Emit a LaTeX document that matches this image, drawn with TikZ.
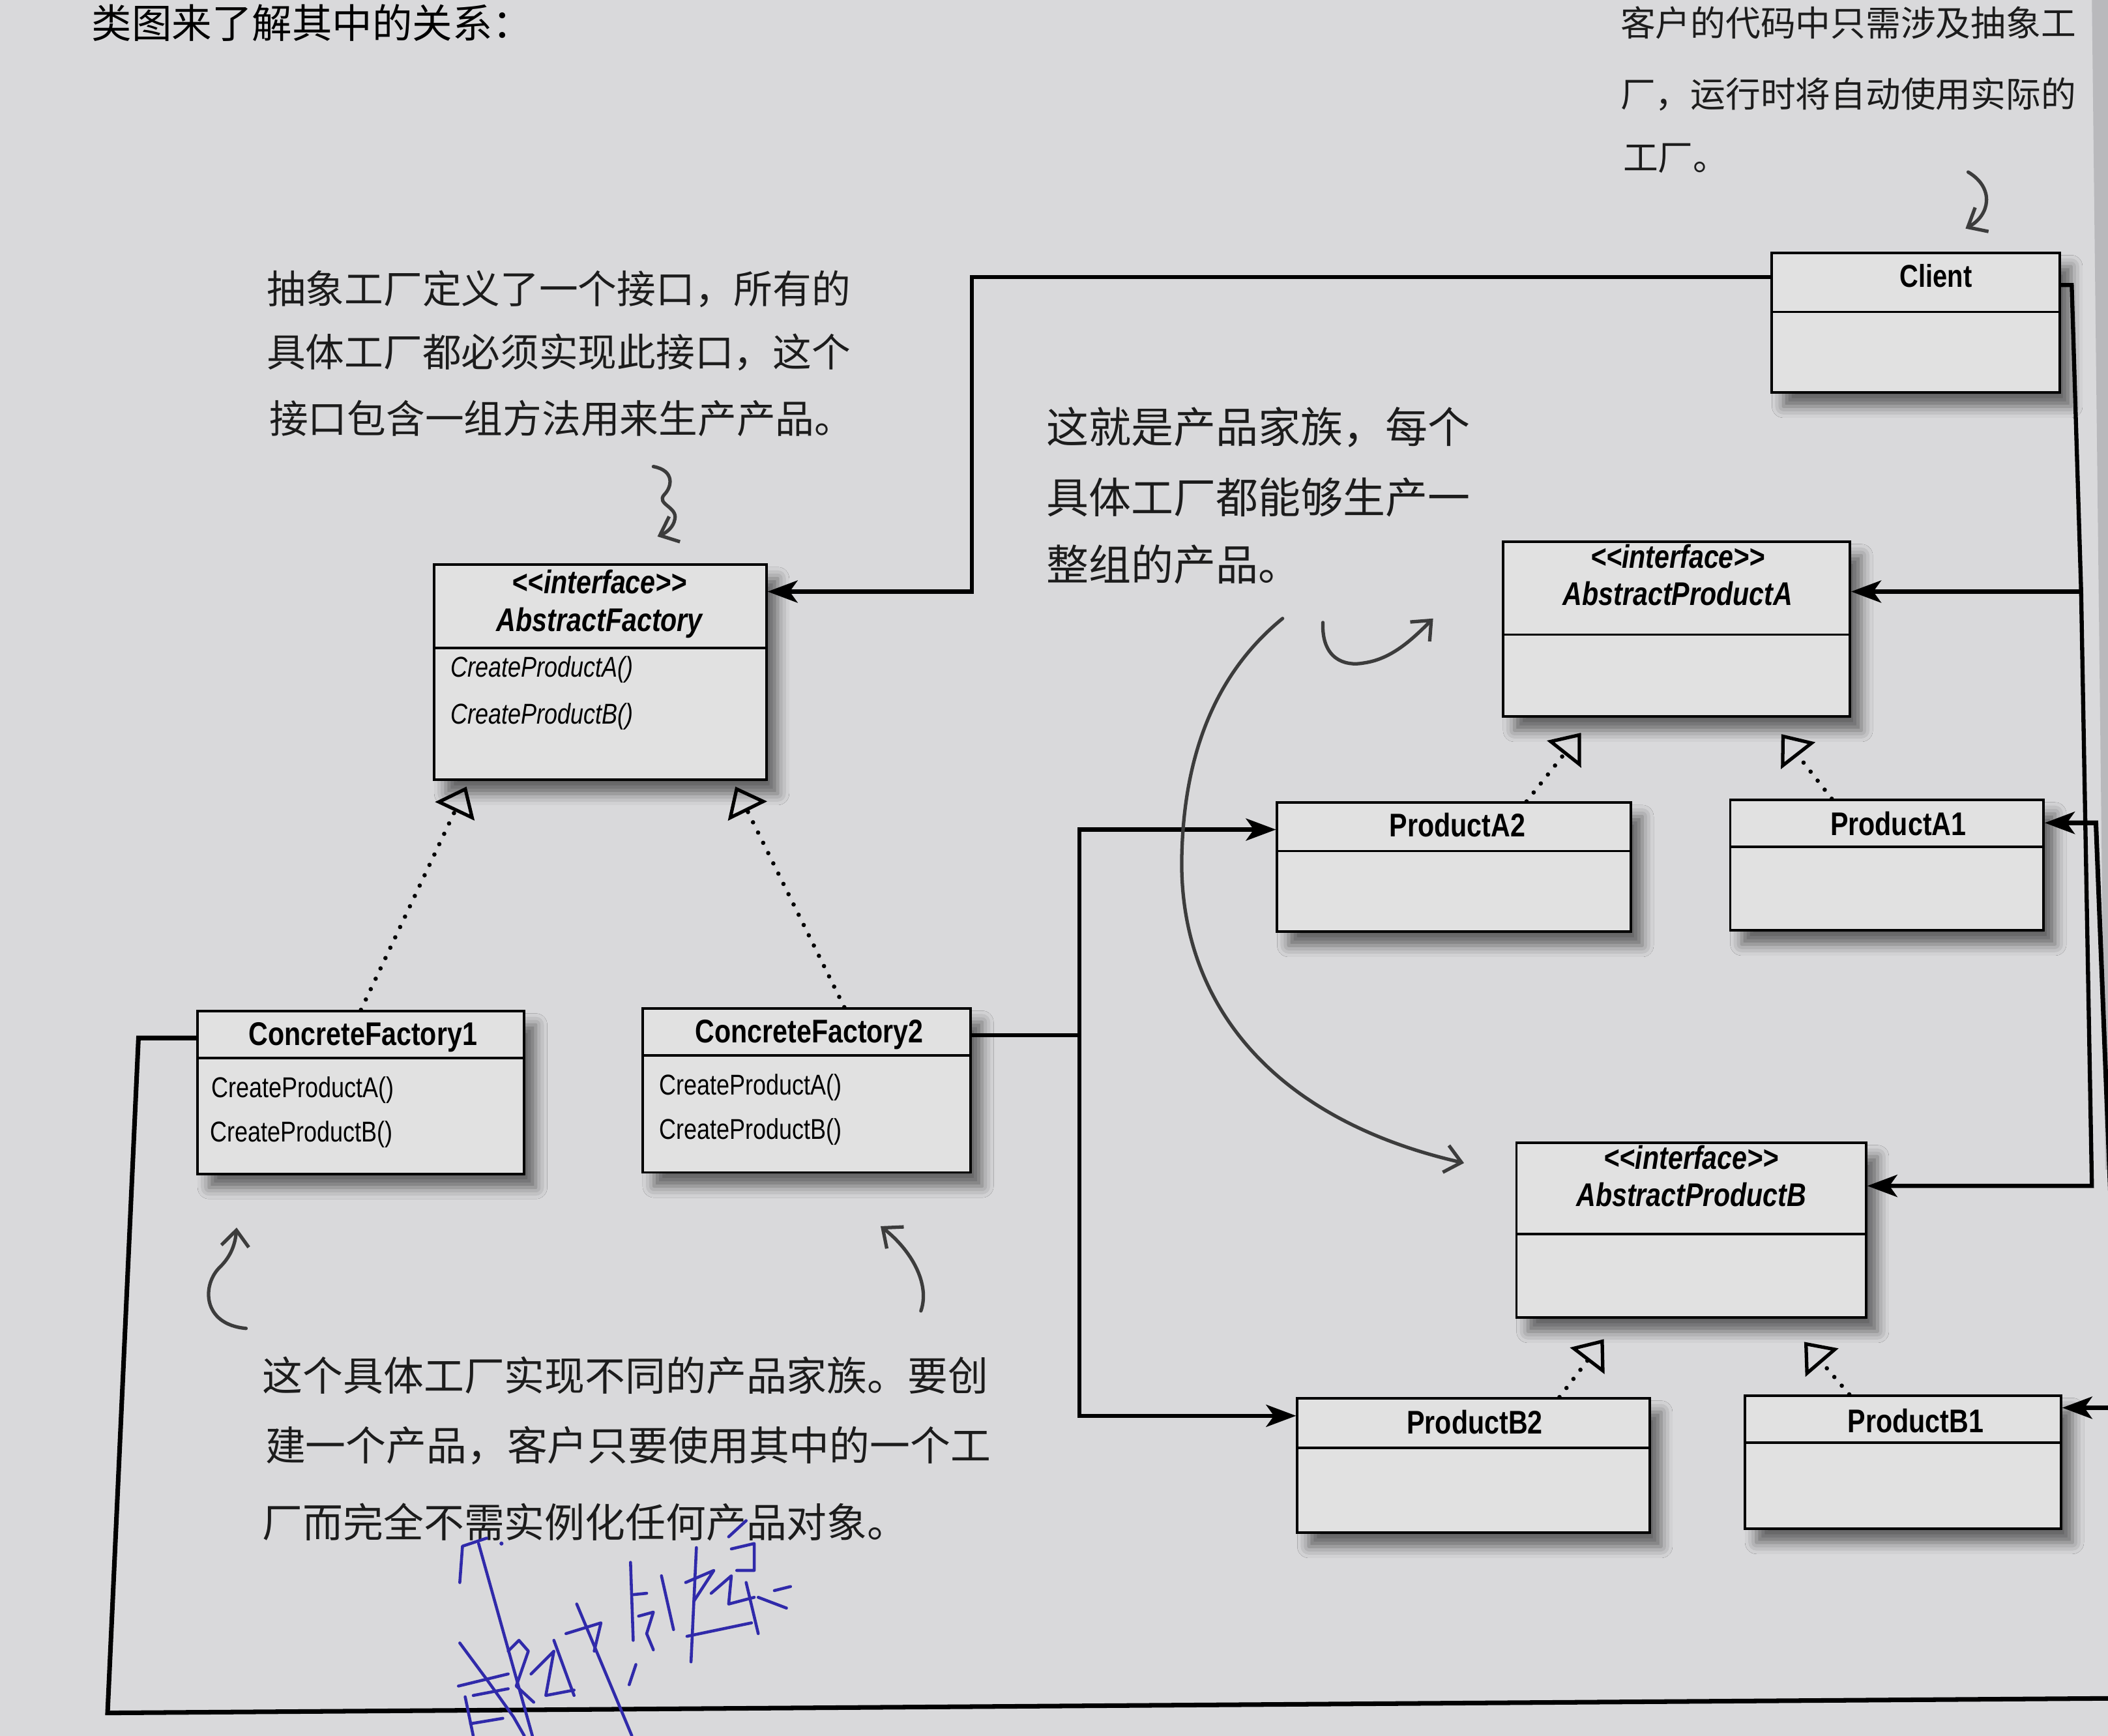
\documentclass[tikz,border=0pt]{standalone}
\usepackage{fontspec}
\newfontfamily\umlfont[FakeStretch=0.82]{Liberation Sans}
\newfontfamily\cjk{Noto Sans CJK SC}
\usetikzlibrary{fit,arrows.meta,shadows.blur,calc}
\definecolor{paper}{RGB}{217,217,219}
\definecolor{boxfill}{RGB}{225,225,225}
\definecolor{edgegray}{RGB}{185,185,188}
\definecolor{ink}{RGB}{28,28,28}
\definecolor{pencil}{RGB}{60,60,60}
\definecolor{pen}{RGB}{48,42,170}
\begin{document}
\begin{tikzpicture}[x=0.020625cm,y=-0.020625cm,
  umlbox/.style={draw=black,line width=1.1pt,fill=boxfill,inner sep=0pt,
    blur shadow={shadow xshift=5pt,shadow yshift=-6pt,shadow blur radius=5pt,shadow opacity=55}},
  cname/.style={font=\umlfont\bfseries\fontsize{14.3}{16}\selectfont,inner sep=0pt,text height=1.5ex,text depth=.3ex},
  iname/.style={font=\umlfont\bfseries\itshape\fontsize{14.3}{16}\selectfont,inner sep=0pt,text height=1.5ex,text depth=.3ex},
  meth/.style={font=\umlfont\fontsize{12.5}{14}\selectfont,anchor=west,inner sep=0pt,text height=1.5ex,text depth=.3ex},
  imeth/.style={font=\umlfont\itshape\fontsize{12.5}{14}\selectfont,anchor=west,inner sep=0pt,text height=1.5ex,text depth=.3ex},
  sepline/.style={line width=1.1pt},
  assoc/.style={line width=1.8pt,line join=miter,-{Stealth[length=0.46cm,width=0.34cm,inset=0.12cm]}},
  wire/.style={line width=1.8pt},
  realize/.style={line width=1.9pt,dash pattern=on 0pt off 5pt,line cap=round,
    -{Triangle[open,length=0.42cm,width=0.66cm,line width=1.5pt]}},
  note/.style={font=\cjk\fontsize{17}{20}\selectfont,text=ink,anchor=west,inner sep=0pt},
  handarrow/.style={draw=pencil,line width=1.5pt,line cap=round,-{Straight Barb[length=7pt,width=12pt,line width=1.5pt]}},
  penstroke/.style={draw=pen,line width=1.3pt,line cap=round,line join=round}
]
\useasboundingbox (0,0) rectangle (1568,1291);
\fill[paper] (0,0) rectangle (1568,1291);
\begin{scope}
\clip (0,0) rectangle (1568,1291);
\fill[edgegray] (1556,0) -- (1568,0) -- (1568,870) -- (1566,870) -- cycle;

% ---------- texts ----------
\node[note,font=\cjk\fontsize{17.5}{20}\selectfont,text=black] (top) at (68,17) {类图来了解其中的关系：};

\node[note] (n1a) at (198,215) {抽象工厂定义了一个接口，所有的};
\node[note] (n1b) at (198,262) {具体工厂都必须实现此接口，这个};
\node[note] (n1c) at (200,311) {接口包含一组方法用来生产产品。};

\node[note,font=\cjk\fontsize{18.5}{20}\selectfont] (n2a) at (778,318) {这就是产品家族，每个};
\node[note,font=\cjk\fontsize{18.5}{20}\selectfont] (n2b) at (778,370) {具体工厂都能够生产一};
\node[note,font=\cjk\fontsize{18.5}{20}\selectfont] (n2c) at (778,420) {整组的产品。};

\node[note,font=\cjk\fontsize{15.3}{18}\selectfont] (n3a) at (1205,17) {客户的代码中只需涉及抽象工};
\node[note,font=\cjk\fontsize{15.3}{18}\selectfont] (n3b) at (1205,70) {厂，运行时将自动使用实际的};
\node[note,font=\cjk\fontsize{15.3}{18}\selectfont] (n3c) at (1207,118) {工厂。};

\node[note,font=\cjk\fontsize{17.6}{20}\selectfont] (n4a) at (195,1023) {这个具体工厂实现不同的产品家族。要创};
\node[note,font=\cjk\fontsize{17.6}{20}\selectfont] (n4b) at (197,1075) {建一个产品，客户只要使用其中的一个工};
\node[note,font=\cjk\fontsize{17.6}{20}\selectfont] (n4c) at (195,1132) {厂而完全不需实例化任何产品对象。};

% ---------- boxes ----------
\node[umlbox,fit={(323,420) (570,580)}] (af) {};
\draw[sepline] (323,482) -- (570,482);
\node[iname] (af-st) at (446,437) {<\kern0pt<interface>\kern0pt>};
\node[iname] (af-nm) at (446,465) {AbstractFactory};
\node[imeth] (af-m1) at (335,499) {CreateProductA()};
\node[imeth] (af-m2) at (335,534) {CreateProductB()};

\node[umlbox,fit={(147,752) (390,873)}] (cf1) {};
\draw[sepline] (147,787) -- (390,787);
\node[cname] (cf1-nm) at (270,773) {ConcreteFactory1};
\node[meth] (cf1-m1) at (157,812) {CreateProductA()};
\node[meth] (cf1-m2) at (156,845) {CreateProductB()};

\node[umlbox,fit={(478,750) (722,872)}] (cf2) {};
\draw[sepline] (478,785) -- (722,785);
\node[cname] (cf2-nm) at (602,771) {ConcreteFactory2};
\node[meth] (cf2-m1) at (490,810) {CreateProductA()};
\node[meth] (cf2-m2) at (490,843) {CreateProductB()};

\node[umlbox,fit={(1318,188) (1532,292)}] (client) {};
\draw[sepline] (1318,232) -- (1532,232);
\node[cname,font=\umlfont\bfseries\fontsize{13.8}{16}\selectfont] (client-nm) at (1440,209) {Client};

\node[umlbox,fit={(1118,403) (1376,533)}] (apa) {};
\draw[sepline] (1118,472) -- (1376,472);
\node[iname] (apa-st) at (1248,418) {<\kern0pt<interface>\kern0pt>};
\node[iname] (apa-nm) at (1248,446) {AbstractProductA};

\node[umlbox,fit={(950,597) (1213,693)}] (pa2) {};
\draw[sepline] (950,633) -- (1213,633);
\node[cname] (pa2-nm) at (1084,618) {ProductA2};

\node[umlbox,fit={(1287,595) (1520,692)}] (pa1) {};
\draw[sepline] (1287,630) -- (1520,630);
\node[cname] (pa1-nm) at (1412,617) {ProductA1};

\node[umlbox,fit={(1128,850) (1388,980)}] (apb) {};
\draw[sepline] (1128,918) -- (1388,918);
\node[iname] (apb-st) at (1258,865) {<\kern0pt<interface>\kern0pt>};
\node[iname] (apb-nm) at (1258,893) {AbstractProductB};

\node[umlbox,fit={(965,1040) (1227,1140)}] (pb2) {};
\draw[sepline] (965,1077) -- (1227,1077);
\node[cname] (pb2-nm) at (1097,1062) {ProductB2};

\node[umlbox,fit={(1298,1038) (1533,1137)}] (pb1) {};
\draw[sepline] (1298,1073) -- (1533,1073);
\node[cname] (pb1-nm) at (1425,1061) {ProductB1};

% ---------- associations ----------
\coordinate (bA) at (723,206);
\coordinate (bA2) at (723,440);
\draw[assoc] (client.west |- bA) -- (bA) -- (bA2) -- (af.east |- bA2);

\coordinate (bR0) at (1541,212);
\coordinate (bR1) at (1548,440);
\coordinate (bR2) at (1556,882);
\draw[assoc] (client.east |- bR0) -- (bR0) -- (bR1) -- (bR2) -- (apb.east |- bR2);
\draw[assoc] (bR1) -- (apa.east |- bR1);

\coordinate (bL0) at (103,772);
\coordinate (bL1) at (80,1274);
\coordinate (bL2) at (1592,1263);
\coordinate (bL3) at (1576,1047);
\coordinate (bL4) at (1559,612);
\draw[assoc,line width=2pt] (cf1.west |- bL0) -- (bL0) -- (bL1) -- (bL2) -- (bL3) -- (bL4) -- (pa1.east |- bL4);
\draw[assoc] (bL3) -- (pb1.east |- bL3);

\coordinate (bM0) at (803,770);
\coordinate (bM1) at (803,617);
\coordinate (bM2) at (803,1053);
\draw[wire] (cf2.east |- bM0) -- (bM0);
\draw[assoc] (bM0) -- (bM1) -- (pa2.west |- bM1);
\draw[assoc] (bM0) -- (bM2) -- (pb2.west |- bM2);

% ---------- realizations ----------
\coordinate (tAF1) at (347,585);
\coordinate (tAF2) at (547,585);
\coordinate (tA2) at (1176,545);
\coordinate (tA1) at (1325,546);
\coordinate (tB2) at (1193,996);
\coordinate (tB1) at (1342,998);
\draw[realize] (cf1.north) -- (tAF1);
\draw[realize] ($(cf2.north)+(28,0)$) -- (tAF2);
\draw[realize] ($(pa2.north)+(54,0)$) -- (tA2);
\draw[realize] ($(pa1.north)+(-41,0)$) -- (tA1);
\draw[realize] ($(pb2.north)+(64,0)$) -- (tB2);
\draw[realize] ($(pb1.north)+(-40,0)$) -- (tB1);

% ---------- hand-drawn arrows ----------
\draw[handarrow] (1464,128) .. controls (1484,140) and (1480,160) .. (1462,170);
\draw[handarrow] (486,347) .. controls (502,350) and (500,362) .. (494,368)
   .. controls (488,375) and (504,377) .. (502,386)
   .. controls (501,392) and (496,396) .. (489,399);
\draw[handarrow] (954,460) .. controls (905,500) and (880,560) .. (879,640)
   .. controls (878,745) and (945,832) .. (1089,865);
\draw[handarrow] (984,463) .. controls (983,490) and (1000,496) .. (1015,493)
   .. controls (1035,490) and (1050,476) .. (1066,460);
\draw[handarrow] (183,988) .. controls (150,985) and (150,955) .. (164,942)
   .. controls (172,934) and (175,925) .. (176,913);
\draw[handarrow] (685,975) .. controls (692,955) and (678,930) .. (655,912);

% ---------- blue pen handwriting ----------
\draw[penstroke] (342,1177) -- (344,1150) -- (362,1144);
\fill[pen] (373,1148) circle (1.5);
\draw[penstroke] (356,1148) -- (396,1291);
\draw[penstroke] (342,1222) -- (362,1249) -- (382,1277) -- (390,1291);
\draw[penstroke] (341,1254) -- (378,1245);
\draw[penstroke] (352,1261) -- (378,1256);
\draw[penstroke] (350,1282) -- (374,1278);
\draw[penstroke] (346,1262) -- (352,1291);
\draw[penstroke] (378,1228) -- (386,1220) -- (393,1228) -- (384,1254) -- (397,1266);
\draw[penstroke] (395,1245) -- (412,1228) -- (406,1261) -- (427,1257);
\draw[penstroke] (412,1220) -- (427,1261);
\draw[penstroke] (429,1193) -- (470,1291);
\draw[penstroke] (421,1215) -- (447,1207) -- (442,1228);
\draw[penstroke] (473,1238) -- (468,1253);
\draw[penstroke] (469,1162) -- (471,1220);
\draw[penstroke] (471,1186) -- (481,1185);
\draw[penstroke] (475,1202) -- (486,1199) -- (481,1215) -- (486,1227);
\draw[penstroke] (492,1172) -- (501,1212);
\draw[penstroke] (518,1151) -- (514,1236);
\draw[penstroke] (510,1177) -- (531,1168) -- (516,1191);
\draw[penstroke] (511,1217) -- (559,1207);
\draw[penstroke] (529,1185) -- (544,1172) -- (542,1193) -- (561,1188);
\draw[penstroke] (542,1143) -- (555,1131);
\draw[penstroke] (544,1152) -- (561,1148) -- (561,1168) -- (548,1168);
\draw[penstroke] (555,1177) -- (564,1215);
\draw[penstroke] (564,1188) -- (585,1196);
\draw[penstroke] (576,1183) -- (588,1180);
\end{scope}
\end{tikzpicture}
\end{document}
